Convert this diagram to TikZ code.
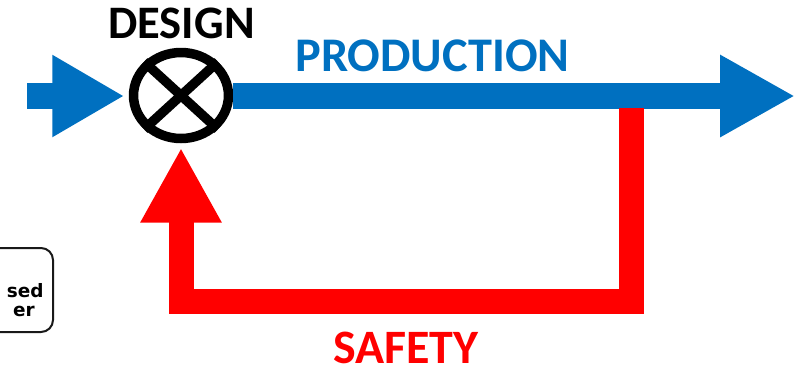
\documentclass[tikz,border=0pt]{standalone}
\usepackage{fontspec}
\setmainfont{Carlito}
\newfontfamily\boxfont{DejaVu Sans}
\usetikzlibrary{arrows.meta,shapes.geometric}
\definecolor{prodblue}{HTML}{0070C0}
\definecolor{safered}{HTML}{FF0000}

\begin{document}
\begin{tikzpicture}[x=0.02cm,y=-0.02cm,
  flow/.style={prodblue,line width=0.52cm},
  loop/.style={safered,line width=0.5cm,line join=miter},
  title/.style={anchor=base,inner sep=0pt},
  boxtext/.style={anchor=base east,inner sep=0pt,font=\boxfont\fontsize{10.5}{11}\selectfont\bfseries}]
  \useasboundingbox (0,0) rectangle (797,370);
  \clip (0,0) rectangle (797,370);
  \node (sum) at (181,95.5) [ellipse,draw,line width=0.19cm,inner sep=0pt,
    minimum width=1.9cm,minimum height=1.72cm] {};
  \draw[line width=0.19cm] (sum.north east) -- (sum.south west);
  \draw[line width=0.19cm] (sum.north west) -- (sum.south east);
  \coordinate (in) at (27,96);
  \coordinate (out) at (795,96);
  \coordinate (tap) at (631.5,108);
  \draw[flow,-{Triangle[length=1.44cm,width=1.54cm]},shorten >=0.09cm] (in) -- (sum.west |- in);
  \draw[flow,-{Triangle[length=1.5cm,width=1.54cm]}] (sum.east |- in) -- (out);
  \draw[loop,-{Triangle[length=1.5cm,width=1.52cm]},shorten >=0.09cm] (tap) -- ++(0,193) -| (sum.south);
  \node[title,font=\fontsize{26.5}{30}\selectfont\bfseries] (design) at (181.5,38) {DESIGN};
  \node[title,prodblue,font=\fontsize{27.5}{32}\selectfont\bfseries] (prod) at (432.5,71) {PRODUCTION};
  \node[title,safered,font=\fontsize{27.3}{32}\selectfont\bfseries] (safety) at (406,363) {SAFETY};
  \draw[line width=0.04cm,gray!20!black,rounded corners=0.24cm] (-60,248) rectangle (53,332);
  \node[boxtext] (boxa) at (44,297) {sed};
  \node[boxtext] (boxb) at (35,316) {er};
\end{tikzpicture}
\end{document}
